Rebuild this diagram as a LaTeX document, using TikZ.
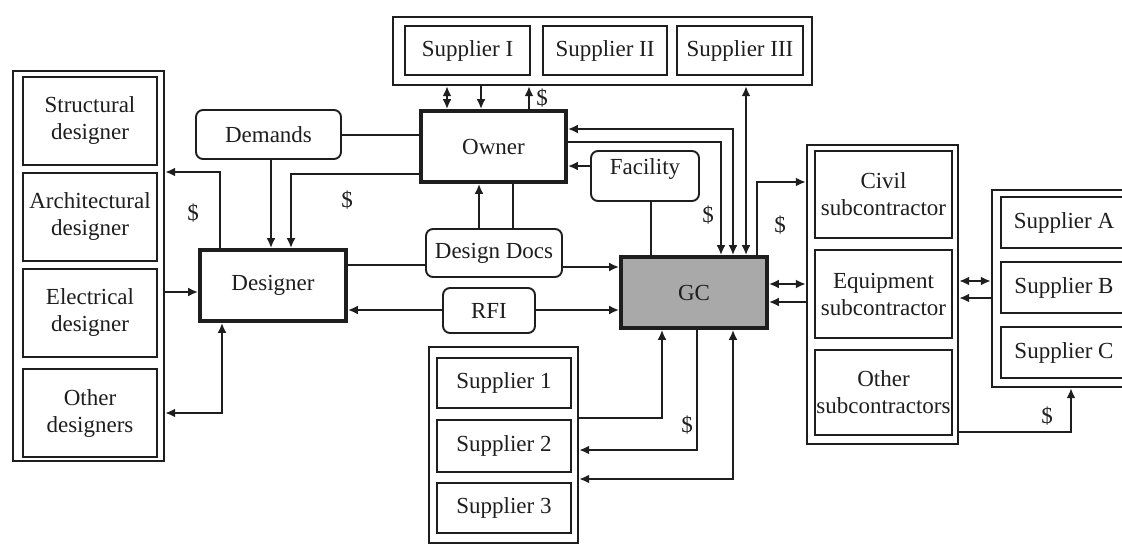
\documentclass[tikz,border=0pt]{standalone}
\usepackage{fontspec}
\setmainfont{Liberation Serif}
\usetikzlibrary{arrows.meta,calc}
\definecolor{ink}{HTML}{1E1E1E}
\definecolor{gcgray}{HTML}{A9A9A9}
\tikzset{
  box/.style={draw=ink, line width=2.2pt, rectangle, align=center, inner sep=0pt, text=ink},
  thickbox/.style={box, line width=3.8pt},
  grp/.style={draw=ink, line width=2.4pt, rectangle, inner sep=0pt},
  rbox/.style={box, line width=1.9pt, rounded corners=7pt},
  conn/.style={draw=ink, line width=2pt},
  tip/.style={-{Latex[length=10pt,width=9pt]}},
  dtip/.style={{Latex[length=10pt,width=9pt]}-{Latex[length=10pt,width=9pt]}},
  money/.style={text=ink, inner sep=0pt}
}
\begin{document}
\begin{tikzpicture}[x=1pt,y=-1pt,font=\fontsize{23}{27}\selectfont]
\useasboundingbox (0,0) rectangle (1122,559);
\fill[white] (0,0) rectangle (1122,559);
% top supplier group
\node[grp, minimum width=419pt, minimum height=68pt] (sgT) at (602.5,51) {};
\node[box, minimum width=125pt, minimum height=49pt] (SupI) at (467.5,50.5) {Supplier I};
\node[box, minimum width=124pt, minimum height=49pt] (SupII) at (605,50.5) {Supplier II};
\node[box, minimum width=126pt, minimum height=49pt] (SupIII) at (740,50.5) {Supplier III};
% main nodes
\node[thickbox, minimum width=145pt, minimum height=71pt] (Owner) at (493.5,146.5) {Owner};
\node[rbox, minimum width=108pt, minimum height=50pt, anchor=center] (Fac) at (645,176) {};
\node[text=ink] at (645,169) {Facility};
\node[thickbox, fill=gcgray, minimum width=146pt, minimum height=71pt] (GC) at (694,292.5) {GC};
\node[rbox, minimum width=136pt, minimum height=48pt] (DD) at (494,253) {Design Docs};
\node[rbox, minimum width=92pt, minimum height=45pt] (RFI) at (489,310.5) {RFI};
\node[thickbox, minimum width=146pt, minimum height=71pt] (Des) at (273,285.5) {Designer};
\node[rbox, minimum width=145pt, minimum height=49pt] (Dem) at (268.5,134.5) {Demands};
% left designers group
\node[grp, minimum width=151pt, minimum height=390pt] (sgL) at (88.5,266) {};
\node[box, minimum width=134pt, minimum height=88pt] (Str) at (90,121) {Structural\\designer};
\node[box, minimum width=134pt, minimum height=88pt] (Arc) at (90,217) {Architectural\\designer};
\node[box, minimum width=134pt, minimum height=88pt] (Ele) at (90,313) {Electrical\\designer};
\node[box, minimum width=134pt, minimum height=88pt] (Oth) at (90,413) {Other\\designers};
% bottom supplier group
\node[grp, minimum width=149pt, minimum height=196pt] (sgB) at (503.5,445) {};
\node[box, minimum width=134pt, minimum height=50pt] (S1) at (504,383) {Supplier 1};
\node[box, minimum width=134pt, minimum height=52pt] (S2) at (504,446) {Supplier 2};
\node[box, minimum width=134pt, minimum height=50pt] (S3) at (504,508) {Supplier 3};
% subcontractor group
\node[grp, minimum width=151pt, minimum height=299pt] (sgS) at (882.5,294.5) {};
\node[box, minimum width=137pt, minimum height=87pt] (Civ) at (883.5,194.5) {Civil\\subcontractor};
\node[box, minimum width=137pt, minimum height=88pt] (Equ) at (883.5,294) {Equipment\\subcontractor};
\node[box, minimum width=137pt, minimum height=85pt] (OSub) at (883.5,392.5) {Other\\subcontractors};
% right supplier group
\node[grp, minimum width=142pt, minimum height=197pt] (sgR) at (1063,288.5) {};
\node[box, minimum width=126pt, minimum height=51pt] (SA) at (1064,222.5) {Supplier A};
\node[box, minimum width=126pt, minimum height=51pt] (SB) at (1064,287.5) {Supplier B};
\node[box, minimum width=126pt, minimum height=51pt] (SC) at (1064,352.5) {Supplier C};
% connectors: owner and top suppliers
\draw[conn,dtip] (447,0 |- Owner.north) -- (447,0 |- sgT.south);
\draw[conn,tip] (481,0 |- sgT.south) -- (481,0 |- Owner.north);
\draw[conn,tip] (529,0 |- Owner.north) -- (529,0 |- sgT.south);
\node[money] (m1) at (542,98) {\$};
\draw[conn,dtip] (746,0 |- GC.north) -- (746,0 |- sgT.south);
% owner and GC
\draw[conn,dtip] (Owner.east |- 0,129) -| (733,0 |- GC.north);
\draw[conn,tip] (Owner.east |- 0,142) -| (721,0 |- GC.north);
\node[money] (m2) at (708,215) {\$};
\draw[conn,tip] (Fac.west |- 0,166) -- (Owner.east |- 0,166);
\draw[conn] (651,0 |- Fac.south) -- (651,0 |- GC.north);
% GC and subcontractors
\draw[conn,tip] (757,0 |- GC.north) |- (sgS.west |- 0,182);
\node[money] (m3) at (780,225) {\$};
\draw[conn,dtip] (GC.east |- 0,284) -- (sgS.west |- 0,284);
\draw[conn,tip] (sgS.west |- 0,302) -- (GC.east |- 0,302);
\draw[conn,dtip] (sgS.east |- 0,281) -- (sgR.west |- 0,281);
\draw[conn,tip] (sgR.west |- 0,298) -- (sgS.east |- 0,298);
\draw[conn,tip] (sgS.east |- 0,432) -| (1071,0 |- sgR.south);
\node[money] (m4) at (1047,416) {\$};
% design docs, RFI
\draw[conn,tip] (479,0 |- DD.north) -- (479,0 |- Owner.south);
\draw[conn] (513,0 |- DD.north) -- (513,0 |- Owner.south);
\draw[conn] (Des.east |- 0,265) -- (DD.west |- 0,265);
\draw[conn,tip] (DD.east |- 0,267) -- (GC.west |- 0,267);
\draw[conn,tip] (RFI.west |- 0,310) -- (Des.east |- 0,310);
\draw[conn,tip] (RFI.east |- 0,310) -- (GC.west |- 0,310);
% demands, designer
\draw[conn] (Dem.east |- 0,135) -- (Owner.west |- 0,135);
\draw[conn,tip] (271,0 |- Dem.south) -- (271,0 |- Des.north);
\draw[conn,tip] (Owner.west |- 0,174) -| (291,0 |- Des.north);
\node[money] (m5) at (347,200) {\$};
\draw[conn,tip] (220,0 |- Des.north) |- (sgL.east |- 0,172);
\node[money] (m6) at (193,213) {\$};
\draw[conn,tip] (sgL.east |- 0,292) -- (Des.west |- 0,292);
\draw[conn,dtip] (222,0 |- Des.south) |- (sgL.east |- 0,413);
% bottom suppliers
\draw[conn,tip] (sgB.east |- 0,418) -| (662,0 |- GC.south);
\draw[conn,tip] (697,0 |- GC.south) |- (sgB.east |- 0,450);
\node[money] (m7) at (687,425) {\$};
\draw[conn,dtip] (733,0 |- GC.south) |- (sgB.east |- 0,479);
\end{tikzpicture}
\end{document}
